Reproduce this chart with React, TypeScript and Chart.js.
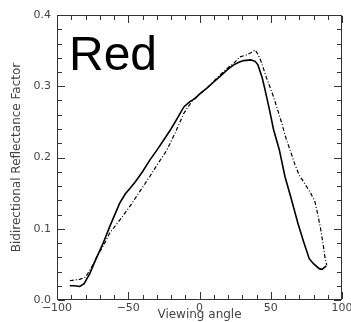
import React, { useEffect, useRef } from "react";
import { Chart, registerables } from "chart.js";

Chart.register(...registerables);

const solidAngles = [-91, -88, -84, -81, -77, -73, -68, -63, -59, -56, -52, -49, -45, -40, -35, -30, -25, -20, -15, -11, -7, -3, 0, 5, 10, 15, 20, 24, 28, 31, 36, 39, 41, 44, 46, 49, 52, 56, 60, 64, 69, 73, 77, 80, 84, 86, 89];
const solidValues = [0.020, 0.020, 0.019, 0.023, 0.037, 0.056, 0.078, 0.103, 0.122, 0.136, 0.149, 0.156, 0.166, 0.180, 0.196, 0.210, 0.225, 0.240, 0.257, 0.271, 0.278, 0.283, 0.289, 0.297, 0.306, 0.315, 0.324, 0.330, 0.334, 0.336, 0.337, 0.335, 0.330, 0.312, 0.295, 0.268, 0.239, 0.211, 0.173, 0.145, 0.108, 0.082, 0.058, 0.051, 0.044, 0.043, 0.048];

const dashedAngles = [-91, -88, -84, -80, -76, -72, -67, -63, -56, -49, -42, -35, -29, -23, -17, -11, -5, 0, 5, 10, 15, 20, 24, 28, 33, 36, 39, 41, 43, 47, 52, 57, 61, 64, 67, 70, 74, 78, 81, 83, 85, 87, 88, 89.3];
const dashedValues = [0.027, 0.028, 0.029, 0.032, 0.045, 0.061, 0.078, 0.094, 0.112, 0.131, 0.152, 0.173, 0.192, 0.210, 0.235, 0.262, 0.280, 0.289, 0.297, 0.307, 0.317, 0.326, 0.332, 0.341, 0.344, 0.347, 0.351, 0.345, 0.336, 0.312, 0.285, 0.253, 0.225, 0.208, 0.190, 0.175, 0.163, 0.150, 0.138, 0.120, 0.100, 0.075, 0.060, 0.049];

const xTickValues = [-100, -50, 0, 50, 100];
const yTickValues = [0, 0.1, 0.2, 0.3, 0.4];
const xMinorTicks = [-100, -90, -80, -70, -60, -50, -40, -30, -20, -10, 0, 10, 20, 30, 40, 50, 60, 70, 80, 90, 100];
const yMinorTicks = [0, 0.02, 0.04, 0.06, 0.08, 0.1, 0.12, 0.14, 0.16, 0.18, 0.2, 0.22, 0.24, 0.26, 0.28, 0.3, 0.32, 0.34, 0.36, 0.38, 0.4];
const xTitle = "Viewing angle";
const yTitle = "Bidirectional Reflectance Factor";
const bandLabel = "Red";

const INK = "#333";
const LABEL = "#444";

const framePlugin = {
  id: "idlFrame",
  afterDraw(chart: any) {
    const ctx: CanvasRenderingContext2D = chart.ctx;
    const area = chart.chartArea;
    const left = area.left, right = area.right, top = area.top, bottom = area.bottom;
    const xs = chart.scales.x;
    const ys = chart.scales.y;
    ctx.save();
    ctx.setLineDash([]);
    ctx.strokeStyle = INK;
    ctx.lineWidth = 1;
    ctx.strokeRect(left + 0.5, top + 0.5, right - left - 1, bottom - top - 1);
    xMinorTicks.forEach((v, i) => {
      const px = Math.round(xs.getPixelForValue(v)) + 0.5;
      const len = i % 5 === 0 ? 7 : 4;
      ctx.beginPath();
      ctx.moveTo(px, bottom - 1);
      ctx.lineTo(px, bottom - 1 - len);
      ctx.moveTo(px, top + 1);
      ctx.lineTo(px, top + 1 + len);
      ctx.strokeStyle = INK;
      ctx.lineWidth = 1;
      ctx.stroke();
    });
    yMinorTicks.forEach((v, i) => {
      const py = Math.round(ys.getPixelForValue(v)) + 0.5;
      const len = i % 5 === 0 ? 7 : 4;
      ctx.beginPath();
      ctx.moveTo(left + 1, py);
      ctx.lineTo(left + 1 + len, py);
      ctx.moveTo(right - 1, py);
      ctx.lineTo(right - 1 - len, py);
      ctx.strokeStyle = INK;
      ctx.lineWidth = 1;
      ctx.stroke();
    });
    ctx.fillStyle = "#000";
    ctx.font = '48px "Liberation Sans", Arial, sans-serif';
    ctx.textBaseline = "alphabetic";
    ctx.textAlign = "left";
    ctx.fillText(bandLabel, 69, 70);
    ctx.restore();
  },
};

export default function App() {
  const ref = useRef<HTMLCanvasElement | null>(null);
  useEffect(() => {
    document.body.style.margin = "0";
    const canvas = ref.current;
    if (!canvas) return;
    const chart = new Chart(canvas, {
      type: "line",
      data: {
        datasets: [
          {
            data: solidAngles.map((a, i) => ({ x: a, y: solidValues[i] })),
            borderColor: "#000",
            borderWidth: 1.6,
            pointRadius: 0,
            fill: false,
            tension: 0,
          },
          {
            data: dashedAngles.map((a, i) => ({ x: a, y: dashedValues[i] })),
            borderColor: "#000",
            borderWidth: 1.2,
            borderDash: [4, 2, 1, 2],
            pointRadius: 0,
            fill: false,
            tension: 0,
          },
        ],
      },
      options: {
        animation: false,
        responsive: false,
        devicePixelRatio: 1,
        layout: { padding: { left: 0, top: 15, right: 23, bottom: 0 } },
        plugins: { legend: { display: false }, tooltip: { enabled: false }, title: { display: false } },
        scales: {
          x: {
            type: "linear",
            min: -100,
            max: 100,
            afterFit: (s: any) => { s.height = 22; },
            afterBuildTicks: (s: any) => { s.ticks = xTickValues.map((v) => ({ value: v })); },
            grid: { display: false, drawTicks: false },
            border: { display: false },
            ticks: {
              color: LABEL,
              padding: 2,
              maxRotation: 0,
              autoSkip: false,
              font: { family: '"DejaVu Sans", sans-serif', size: 11 },
              callback: (v: any) => String(v).replace("-", "\u2212"),
            },
            title: {
              display: true,
              text: xTitle,
              color: LABEL,
              padding: 0,
              font: { family: '"DejaVu Sans", sans-serif', size: 12 },
            },
          },
          y: {
            type: "linear",
            min: 0,
            max: 0.4,
            afterFit: (s: any) => { s.width = 57; },
            afterBuildTicks: (s: any) => { s.ticks = yTickValues.map((v) => ({ value: v })); },
            grid: { display: false, drawTicks: false },
            border: { display: false },
            ticks: {
              color: LABEL,
              padding: 6,
              autoSkip: false,
              font: { family: '"DejaVu Sans", sans-serif', size: 11 },
              callback: (v: any) => Number(v).toFixed(1),
            },
            title: {
              display: true,
              text: yTitle,
              color: LABEL,
              padding: { top: 10, bottom: 0 },
              font: { family: '"DejaVu Sans", sans-serif', size: 12 },
            },
          },
        },
      },
      plugins: [framePlugin],
    });
    return () => chart.destroy();
  }, []);
  return (
    <div style={{ position: "absolute", left: 0, top: 0, width: 351, height: 322, overflow: "hidden", background: "#fff" }}>
      <canvas ref={ref} width={365} height={322} style={{ width: 365, height: 322, display: "block" }} />
    </div>
  );
}
